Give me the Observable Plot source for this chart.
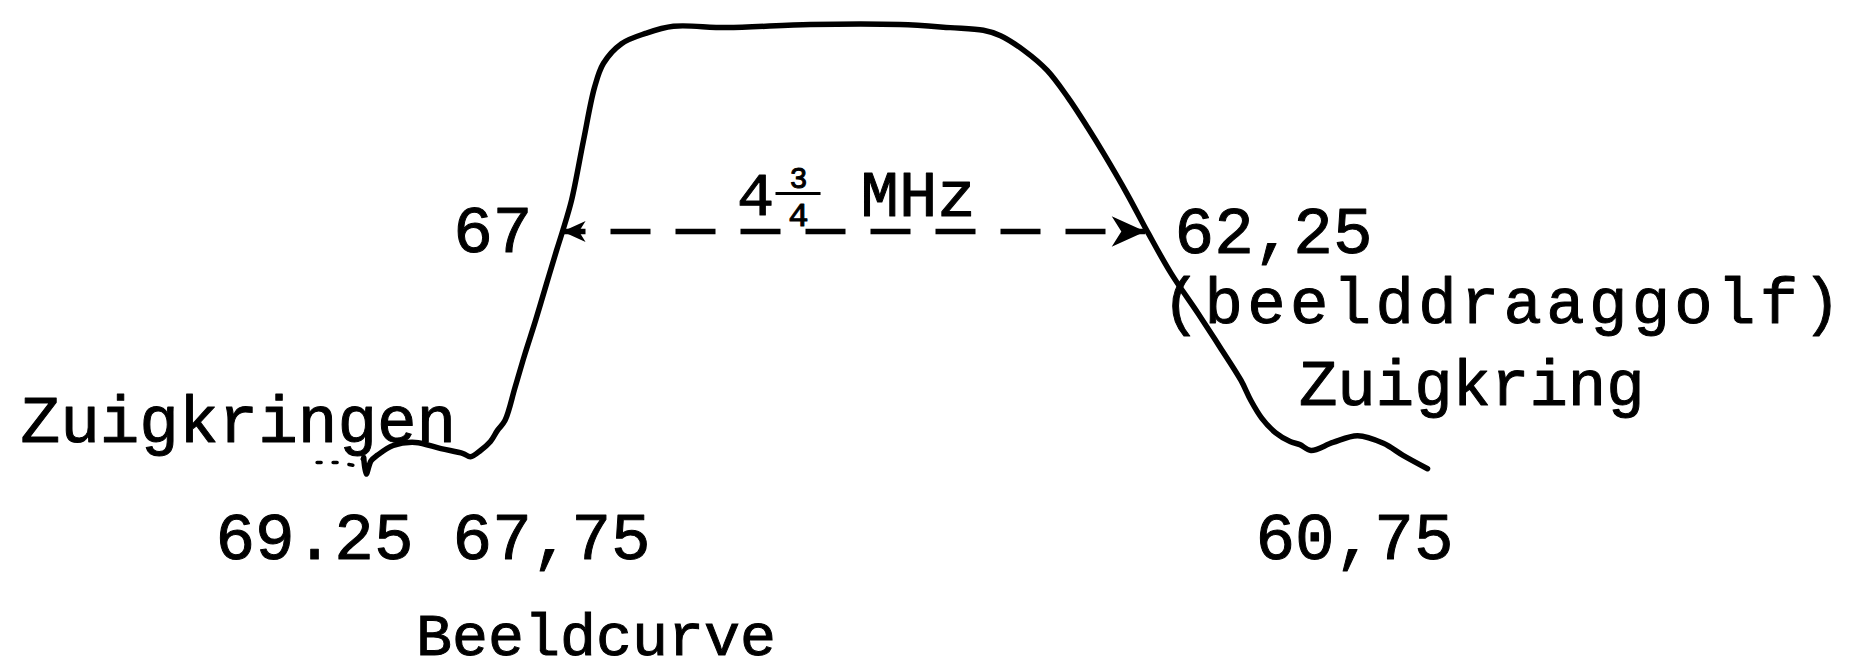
<!DOCTYPE html>
<html><head><meta charset="utf-8">
<script src="https://cdn.jsdelivr.net/npm/d3@7"></script>
<script src="https://cdn.jsdelivr.net/npm/@observablehq/plot@0.6"></script>
<style>
html,body{margin:0;background:#fff;overflow:hidden}
#cap{font-family:"Liberation Mono",monospace;font-size:60px;height:58px;line-height:62px;padding-left:416px;color:#000;white-space:nowrap;-webkit-text-stroke:1px #000}
</style>
</head><body>
<div id="chart"></div>
<div id="cap">Beeldcurve</div>
<script>
// Frequency in MHz (axis runs high → low, left → right), relative response 0..1
const curveF = [68.62,68.60,68.56,68.51,68.38,68.20,67.99,67.81,67.75,67.668,67.587,67.530,67.469,67.387,67.310,67.220,67.130,67.049,67.000,66.927,66.829,66.739,66.666,66.519,66.324,66.096,65.66,64.98,64.25,63.84,63.57,63.43,63.24,63.05,62.88,62.72,62.59,62.40,62.224,62.04,61.82,61.64,61.47,61.39,61.30,61.19,61.07,60.99,60.90,60.72,60.52,60.31,60.15,59.95];
const curveL = [0.029,-0.008,0.022,0.034,0.056,0.063,0.049,0.038,0.031,0.045,0.065,0.090,0.112,0.186,0.258,0.336,0.419,0.493,0.536,0.605,0.740,0.859,0.913,0.957,0.980,0.996,0.993,1.0,1.0,0.993,0.987,0.975,0.942,0.897,0.836,0.769,0.711,0.621,0.531,0.442,0.352,0.276,0.202,0.157,0.117,0.085,0.065,0.058,0.045,0.063,0.078,0.061,0.034,0.004];
const tailF = [69.00,68.83,68.69,68.62];
const tailL = [0.018,0.018,0.011,0.029];

// bandwidth arrow between 67 and 62.25 MHz
const bandFrom = 67, bandTo = 62.25, bandLevel = 0.536;

// labels: text, frequency position, level position
const labelText = ["67","62,25","Zuigkringen","69.25","67,75","60,75"];
const labelF    = [67.245,62.012,71.417,69.828,67.896,61.352];
const labelL    = [0.538,0.534,0.112,-0.152,-0.152,-0.152];
const anchorEnd = ["67"];
const trapText = "Zuigkring", trapF = 60.998, trapL = 0.193;
const noteText = "(beelddraaggolf)", noteF = 62.115, noteL = 0.3765;
// "4 3/4 MHz"
const bwWhole = "4", bwWholeF = 65.427, bwL = 0.617;
const bwNum = "3", bwDen = "4", bwFracF = 65.077, bwNumL = 0.655, bwDenL = 0.572;
const bwBarF = [65.264, 64.897], bwBarL = 0.621;
const bwUnit = "MHz", bwUnitF = 64.571;

const curve = curveF.map((f,i)=>({f, L: curveL[i]}));
const tail = tailF.map((f,i)=>({f, L: tailL[i]}));
const labels = labelText.map((t,i)=>({t, f: labelF[i], L: labelL[i]}));

const head = {draw(ctx, size){ const s = Math.sqrt(size/Math.PI);
  ctx.moveTo(0,0); ctx.lineTo(-2.1*s,-0.95*s); ctx.lineTo(-1.5*s,0); ctx.lineTo(-2.1*s,0.95*s); ctx.closePath(); }};

const font = "Liberation Mono";
const txt = {fontFamily: font, fill: "black", stroke: "black", strokeWidth: 1};
const chart = Plot.plot({
  width: 1853, height: 608, margin: 0,
  x: {domain: [71.5, 59], range: [9.85, 1543.6], axis: null},
  y: {domain: [0, 1], range: [470, 24], axis: null},
  style: {background: "white", overflow: "visible"},
  marks: [
    Plot.line(tail, {x: "f", y: "L", stroke: "black", strokeWidth: 3.5, strokeDasharray: "4 12", curve: "linear"}),
    Plot.line(curve, {x: "f", y: "L", stroke: "black", strokeWidth: 5.5, curve: "catmull-rom", strokeLinejoin: "round"}),
    Plot.link([{a: bandFrom, b: bandTo}], {x1: "a", x2: "b", y1: () => bandLevel, y2: () => bandLevel, stroke: "black", strokeWidth: 5.5, strokeDasharray: "40 25", strokeDashoffset: 17}),
    Plot.dot([{f: bandTo}], {x: "f", y: () => bandLevel, symbol: head, r: 16, fill: "black", stroke: "none"}),
    Plot.dot([{f: bandFrom}], {x: "f", y: () => bandLevel, symbol: head, r: 11, fill: "black", stroke: "none", rotate: 180}),
    Plot.text(labels.filter(d => !anchorEnd.includes(d.t)), {x: "f", y: "L", text: "t", textAnchor: "start", fontSize: 66, ...txt}),
    Plot.text(labels.filter(d => anchorEnd.includes(d.t)), {x: "f", y: "L", text: "t", textAnchor: "end", fontSize: 66, ...txt}),
    Plot.text([trapText], {x: () => trapF, y: () => trapL, text: d => d, textAnchor: "start", fontSize: 64, ...txt}),
    Plot.text([noteText], {x: () => noteF, y: () => noteL, text: d => d, textAnchor: "start", fontSize: 64, ...txt}),
    Plot.text([bwWhole], {x: () => bwWholeF, y: () => bwL, text: d => d, fontSize: 62, ...txt}),
    Plot.text([bwNum], {x: () => bwFracF, y: () => bwNumL, text: d => d, fontSize: 30, ...txt}),
    Plot.text([bwDen], {x: () => bwFracF, y: () => bwDenL, text: d => d, fontSize: 34, ...txt}),
    Plot.link([{a: bwBarF[0], b: bwBarF[1]}], {x1: "a", x2: "b", y1: () => bwBarL, y2: () => bwBarL, stroke: "black", strokeWidth: 3}),
    Plot.text([bwUnit], {x: () => bwUnitF, y: () => bwL, text: d => d, textAnchor: "start", fontSize: 64, ...txt})
  ]
});
d3.select(chart).selectAll("text").filter(function(){ return this.textContent === noteText; }).attr("letter-spacing", "4.3px");
document.getElementById("chart").appendChild(chart);
</script>
</body></html>
